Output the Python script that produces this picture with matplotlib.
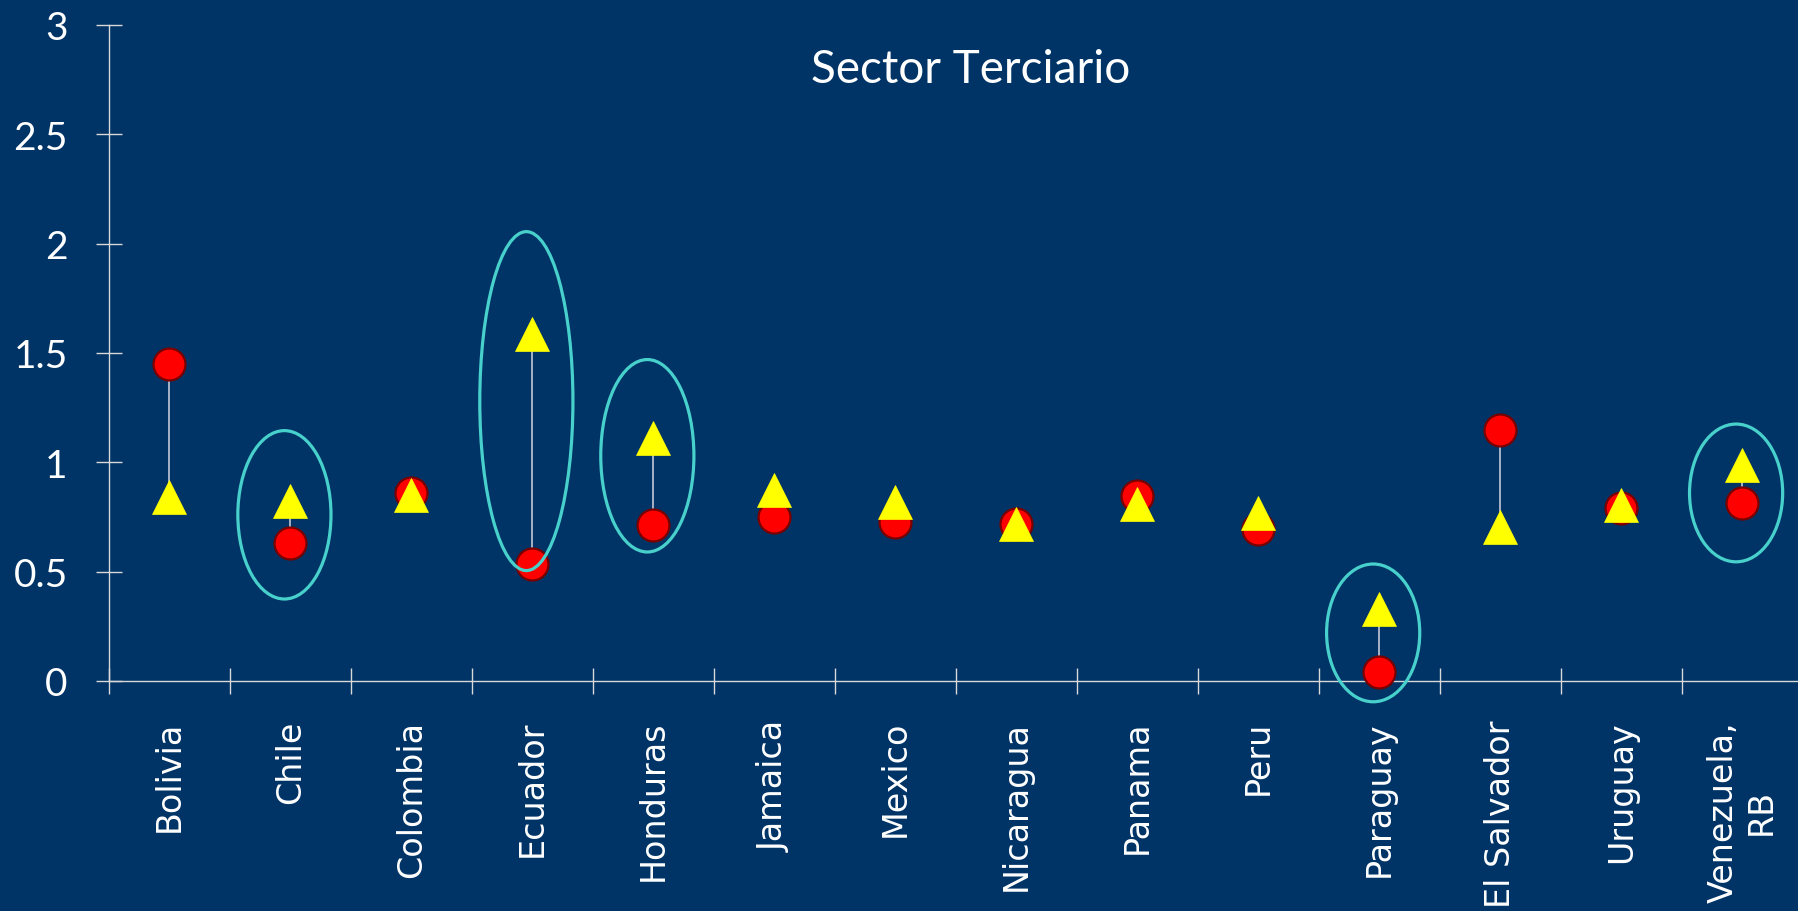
import matplotlib.pyplot as plt
from matplotlib.patches import Ellipse
from matplotlib.ticker import FixedLocator

countries = ['Bolivia', 'Chile', 'Colombia', 'Ecuador', 'Honduras', 'Jamaica', 'Mexico',
             'Nicaragua', 'Panama', 'Peru', 'Paraguay', 'El Salvador', 'Uruguay', 'Venezuela,\nRB']
circle_values = [1.45, 0.63, 0.86, 0.535, 0.715, 0.75, 0.725, 0.72, 0.845, 0.695, 0.04, 1.15, 0.79, 0.815]
triangle_values = [0.84, 0.825, 0.85, 1.585, 1.11, 0.875, 0.82, 0.72, 0.81, 0.77, 0.33, 0.705, 0.805, 0.99]
y_ticks = [0, 0.5, 1, 1.5, 2, 2.5, 3]

# highlighted countries: (country, ellipse centre, ellipse height)
highlights = [('Chile', 0.76, 0.77), ('Ecuador', 1.28, 1.55), ('Honduras', 1.03, 0.88),
              ('Paraguay', 0.22, 0.63), ('Venezuela,\nRB', 0.86, 0.63)]

BG = '#003366'
AXIS = '#d9d9d9'

fig = plt.figure(figsize=(17.99, 9.12), dpi=100, facecolor=BG)
ax = fig.add_axes([109 / 1799, 230 / 912, 1 - 109 / 1799, 656 / 912])
ax.set_facecolor(BG)

x = list(range(len(countries)))

# connector lines between the two markers
ax.vlines(x, circle_values, triangle_values, colors='#b4bccb', linewidth=1.3, zorder=2)
ax.plot(x, circle_values, linestyle='none', marker='o', markersize=23,
        markerfacecolor='#ff0000', markeredgecolor='#7a0000', markeredgewidth=1.6, zorder=3,
        clip_on=False)
ax.plot(x, triangle_values, linestyle='none', marker='^', markersize=24,
        markerfacecolor='#ffff00', markeredgecolor='#ffff00', markeredgewidth=0.5, zorder=4,
        clip_on=False)

for name, yc, h in highlights:
    i = countries.index(name)
    ax.add_patch(Ellipse((i - 0.05, yc), 0.77, h, fill=False, clip_on=False,
                         edgecolor='#48d1cc', linewidth=2.3, zorder=5))

ax.set_xlim(-0.5, 13.47)
ax.set_ylim(0, 3)

for side in ['top', 'right']:
    ax.spines[side].set_visible(False)
for side in ['left', 'bottom']:
    ax.spines[side].set_color(AXIS)
    ax.spines[side].set_linewidth(1.0)

ax.set_yticks(y_ticks)
ax.set_yticklabels(['0', '0.5', '1', '1.5', '2', '2.5', '3'], fontfamily='Lato', fontsize=28, color='white')
ax.tick_params(axis='y', direction='inout', length=19.4, width=1.0, color=AXIS, pad=20)

ax.set_xticks(x)
ax.set_xticklabels(countries, rotation=90, va='top', ha='center', multialignment='center',
                   fontfamily='DejaVu Sans', fontsize=24, color='white')
ax.tick_params(axis='x', which='major', length=0, pad=28)
ax.xaxis.set_minor_locator(FixedLocator([i - 0.5 for i in x]))
ax.tick_params(axis='x', which='minor', direction='inout', length=19.4, width=1.0, color=AXIS)

fig.text(971 / 1799, 1 - 83 / 912, 'Sector Terciario', ha='center', va='baseline',
         fontfamily='Lato', fontsize=33, color='white')

fig.savefig('out.png', dpi=100, facecolor=BG)
